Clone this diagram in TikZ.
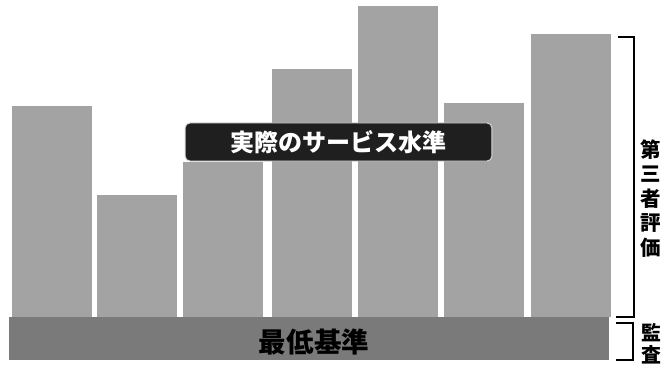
\documentclass[tikz,border=0pt]{standalone}
\usepackage{fontspec}
\setmainfont{Noto Sans CJK JP}
\usepackage{tikz}
\usetikzlibrary{positioning}

\begin{document}
\begin{tikzpicture}[x=0.03cm,y=-0.03cm,
    barfill/.style={fill=black!36},
    basefill/.style={fill=black!52},
    brk/.style={line width=1.2pt,black},
    levelbox/.style={fill=black!88,draw=black!15,line width=0.8pt,rounded corners=4pt,
      text=white,font=\bfseries\fontsize{20.5}{24}\selectfont,minimum width=9.2cm,minimum height=1.14cm,inner sep=0pt},
    sidetext/.style={align=center,inner sep=0pt,font=\bfseries\fontsize{17.5}{21}\selectfont}]
\useasboundingbox (0,0) rectangle (662,366);
\fill[basefill] (9,317) rectangle (609,360);
\foreach \l/\t in {12/106,97/195,183/162,272/69,358/6,444/103,531/34}
  \fill[barfill] (\l,\t) rectangle (\l+80,317);
\node[levelbox] (level) at (338.5,142) {実際のサービス水準};
\node[font=\bfseries\fontsize{23.5}{26}\selectfont,inner sep=0pt] (minimum) at (314,342) {最低基準};
\draw[brk] (618,37) -- (634,37) -- (634,317) -- (616,317);
\draw[brk] (616,323) -- (633,323) -- (633,360) -- (616,360);
\node[sidetext] (third) at (651,198.5) {第\\三\\者\\評\\価};
\node[sidetext,anchor=north,font=\bfseries\fontsize{17}{19}\selectfont] (audit) at (651,323) {監\\査};
\end{tikzpicture}
\end{document}
